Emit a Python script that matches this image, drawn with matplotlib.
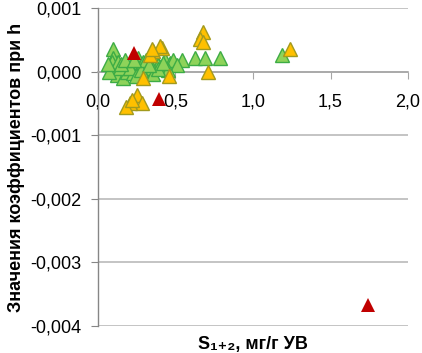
"""Коэффициенты при h в зависимости от S1+2 — треугольные маркеры трёх групп."""
import matplotlib
matplotlib.use("Agg")
import matplotlib.pyplot as plt
from matplotlib.ticker import FuncFormatter, MultipleLocator

plt.rcParams["font.family"] = ["Liberation Sans", "DejaVu Sans"]

# зелёная группа
green_x = [0.095, 0.097, 0.11, 0.088, 0.12, 0.16, 0.185, 0.217, 0.26, 0.27,
           0.303, 0.32, 0.368, 0.387, 0.432, 0.465, 0.484, 0.54, 0.626, 0.69,
           0.787, 1.185, 0.142, 0.226, 0.346, 0.41, 0.507, 0.29, 0.206, 0.13,
           0.07, 0.065, 0.245, 0.355, 0.45, 0.15, 0.175, 0.28, 0.31, 0.39,
           0.42, 0.23, 0.33]
green_y = [0.00035, 0.00022, 0.00008, 0.00016, -0.00005, -0.0001, 0.0, 0.00014,
           0.00022, 0.00008, 0.0, 0.00014, 0.00022, 0.00011, 0.00019, 0.00014,
           0.00019, 0.00019, 0.00022, 0.00022, 0.00022, 0.00027, 0.00006,
           -0.00002, 0.00006, 0.00008, 0.00011, 0.00016, 0.00006, 0.00016,
           0.0, 0.00012, -0.00006, -0.00004, 0.00003, 0.00012, 0.00018,
           0.00003, 0.00019, 0.00004, 0.00013, 0.00019, 0.0001]

# жёлтая группа
yellow_x = [0.677, 0.658, 0.68, 1.239, 0.712, 0.458, 0.411, 0.355, 0.335,
            0.293, 0.25, 0.282, 0.206, 0.18, 0.217, 0.40, 0.346]
yellow_y = [0.00062, 0.00052, 0.00047, 0.00036, -0.00001, -0.00007, 0.00038,
            0.00032, 0.00027, -0.0001, -0.00036, -0.00049, -0.00049, -0.00056,
            -0.00044, 0.00041, 0.00036]

# красная группа
red_x = [0.232, 0.394, 1.744]
red_y = [0.0003, -0.00043, -0.00367]

fig = plt.figure(figsize=(4.22, 3.53), dpi=100)
ax = fig.add_axes([0.232, 0.0765, 0.735, 0.9005])

ax.plot(green_x, green_y, "^", ms=10.5, mfc="#8ed35a", mec="#3dac45", mew=1,
        ls="none", zorder=3)
ax.plot(yellow_x, yellow_y, "^", ms=10.5, mfc="#ffc000", mec="#a29a1e", mew=1,
        ls="none", zorder=4)
ax.plot(red_x, red_y, "^", ms=9.5, mfc="#c00000", mec="#c00000", mew=0,
        ls="none", zorder=5)

ax.set_xlim(0, 2.0)
ax.set_ylim(-0.004, 0.001)
ax.xaxis.set_major_locator(MultipleLocator(0.5))
ax.yaxis.set_major_locator(MultipleLocator(0.001))
ax.xaxis.set_major_formatter(FuncFormatter(lambda v, p: f"{v:.1f}".replace(".", ",")))
ax.yaxis.set_major_formatter(FuncFormatter(
    lambda v, p: f"{v:.3f}".replace(".", ",").replace("-0,000", "0,000")))

ax.grid(axis="y", color="#bfbfbf", lw=1.3, zorder=0)
ax.set_axisbelow(True)
for s in ["top", "right"]:
    ax.spines[s].set_visible(False)
ax.spines["bottom"].set_position(("data", 0))
ax.spines["bottom"].set_color("#a6a6a6")
ax.spines["bottom"].set_linewidth(1.2)
ax.spines["left"].set_color("#868686")
ax.spines["left"].set_linewidth(1.0)

ax.tick_params(axis="x", direction="out", length=5, color="#a6a6a6",
               pad=11, labelsize=13)
ax.tick_params(axis="y", direction="out", length=5, color="#868686",
               pad=7, labelsize=13)

ax.set_ylabel("Значения коэффициентов при h", fontsize=13, fontweight="bold",
              labelpad=4)
fig.text(0.6, 0.025, "S₁₊₂, мг/г УВ", ha="center", va="center",
         fontsize=13, fontweight="bold")

fig.savefig("out.png", dpi=100)
